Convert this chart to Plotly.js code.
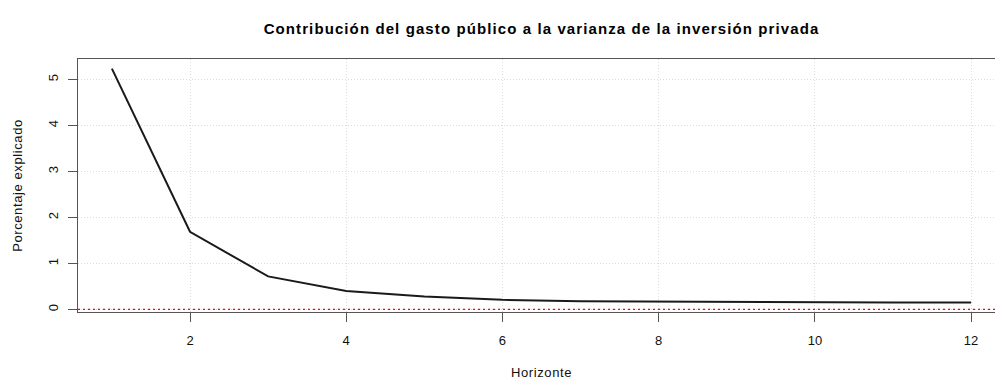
<!DOCTYPE html>
<html>
<head>
<meta charset="utf-8">
<script src="https://cdn.plot.ly/plotly-3.0.1.min.js"></script>
<style>
html,body{margin:0;padding:0;overflow:hidden;background:#fff;width:995px;height:380px;}
#chart{width:1010px;height:380px;}
#chart .gtitle{letter-spacing:1.1px;}
#chart .xtitle,#chart .ytitle{letter-spacing:0.6px;}
</style>
</head>
<body>
<div id="chart"></div>
<script>
const horizonte = [1,2,3,4,5,6,7,8,9,10,11,12];
const porcentaje = [5.24,1.69,0.72,0.40,0.28,0.21,0.18,0.17,0.16,0.15,0.15,0.15];
const xTicks = [2,4,6,8,10,12];
const yTicks = [0,1,2,3,4,5];
const titulo = "Contribución del gasto público a la varianza de la inversión privada";
const xLabel = "Horizonte";
const yLabel = "Porcentaje explicado";
const referencia = 0;
const xRange = [0.566, 12.434];

const font = "Liberation Sans, Arial, sans-serif";

const refTrace = {
  x: xRange, y: [referencia, referencia], type: 'scatter', mode: 'lines',
  line: {color: '#ff0000', width: 1.2, dash: '2px,3px'}, hoverinfo: 'skip', showlegend: false
};
const trace = {
  x: horizonte, y: porcentaje, type: 'scatter', mode: 'lines',
  line: {color: '#1a1a1a', width: 2}, hoverinfo: 'skip', showlegend: false
};

const layout = {
  width: 1010, height: 380,
  margin: {l: 78, r: 5, t: 59, b: 68},
  paper_bgcolor: '#fff', plot_bgcolor: '#fff',
  font: {family: font, color: '#111', size: 13},
  title: {text: '<b>' + titulo + '</b>', font: {size: 15, family: font, color: '#000'}, x: 0.5, xref: 'paper', y: 0.925, yref: 'container', yanchor: 'middle'},
  xaxis: {
    range: xRange, tickvals: xTicks, ticktext: xTicks.map(String),
    ticks: 'outside', ticklen: 9, tickcolor: '#555', tickwidth: 1,
    showline: true, linecolor: '#555', linewidth: 1, mirror: true,
    showgrid: true, gridcolor: '#dcdcdc', griddash: '1px,2px', gridwidth: 1,
    zeroline: false, ticklabelstandoff: 7,
    tickfont: {size: 13, family: font, color: '#111'},
    title: {text: xLabel, font: {size: 13, family: font, color: '#111'}, standoff: 24}
  },
  yaxis: {
    range: [-0.055, 5.45], tickvals: yTicks, ticktext: yTicks.map(String),
    ticks: 'outside', ticklen: 9, tickcolor: '#555', tickwidth: 1,
    showline: true, linecolor: '#555', linewidth: 1, mirror: true,
    showgrid: true, gridcolor: '#dcdcdc', griddash: '1px,2px', gridwidth: 1,
    zeroline: false, tickangle: -90, ticklabelstandoff: 5,
    tickfont: {size: 13, family: font, color: '#111'},
    title: {text: yLabel, font: {size: 13, family: font, color: '#111'}, standoff: 20}
  }
};

Plotly.newPlot('chart', [refTrace, trace], layout, {displayModeBar: false, staticPlot: true});
</script>
</body>
</html>
